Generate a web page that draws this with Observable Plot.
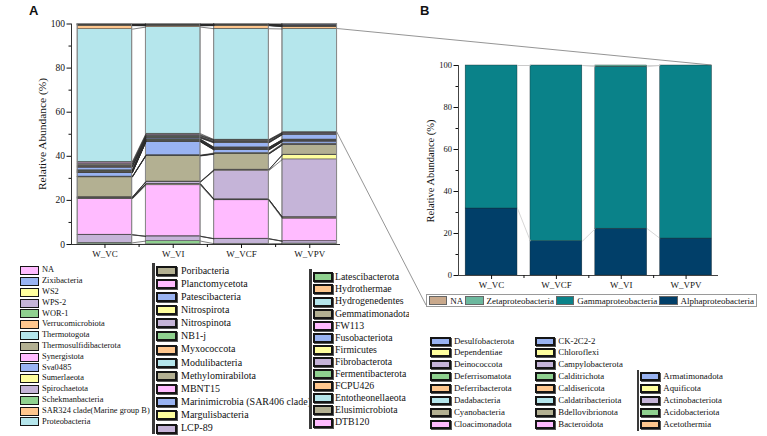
<!DOCTYPE html>
<html><head><meta charset="utf-8">
<script src="https://cdn.jsdelivr.net/npm/d3@7"></script>
<script src="https://cdn.jsdelivr.net/npm/@observablehq/plot@0.6"></script>
<style>
body{margin:0;background:#fff;}
#root{position:relative;width:767px;height:436px;overflow:hidden;font-family:"Liberation Serif","Times New Roman",serif;background:#fff;}
.plot{position:absolute;left:0;top:0;}
.leg{position:absolute;overflow:hidden;background:#fff;}
.item{position:absolute;white-space:nowrap;color:#111;}
.sw{position:absolute;box-sizing:border-box;border-style:solid;border-color:#151515;}
.panel{position:absolute;font-family:"Liberation Sans",Arial,sans-serif;font-weight:bold;font-size:13px;color:#111;}
.ylab{position:absolute;white-space:nowrap;transform:translate(-50%,-50%) rotate(-90deg);color:#111;}
#legB{position:absolute;display:flex;align-items:center;box-sizing:border-box;border:1px solid #9a9a9a;background:#fff;font-size:9px;padding-left:2px;}
#legB .s{width:20px;height:9px;box-sizing:border-box;border:1px solid #666;margin-right:3px;}
#legB .t{margin-right:2px;white-space:nowrap;color:#111;}
</style></head><body><div id="root"></div>
<script>
// ---------- Panel A data (legend order; stacks are drawn bottom = last) ----------
const samplesA = ["W_VC","W_VI","W_VCF","W_VPV"];
const taxa = [
"NA","Zixibacteria","WS2","WPS-2","WOR-1","Verrucomicrobiota","Thermotogota","Thermosulfidibacterota","Synergistota","Sva0485","Sumerlaeota","Spirochaetota","Schekmanbacteria","SAR324 clade(Marine group B)","Proteobacteria",
"Poribacteria","Planctomycetota","Patescibacteria","Nitrospirota","Nitrospinota","NB1-j","Myxococcota","Modulibacteria","Methylomirabilota","MBNT15","Marinimicrobia (SAR406 clade)","Margulisbacteria","LCP-89",
"Latescibacterota","Hydrothermae","Hydrogenedentes","Gemmatimonadota","FW113","Fusobacteriota","Firmicutes","Fibrobacterota","Fermentibacterota","FCPU426","Entotheonellaeota","Elusimicrobiota","DTB120",
"Desulfobacterota","Dependentiae","Deinococcota","Deferrisomatota","Deferribacterota","Dadabacteria","Cyanobacteria","Cloacimonadota",
"CK-2C2-2","Chloroflexi","Campylobacterota","Calditrichota","Caldisericota","Caldatribacteriota","Bdellovibrionota","Bacteroidota",
"Armatimonadota","Aquificota","Actinobacteriota","Acidobacteriota","Acetothermia"];
const valuesVC = [
0.1,0.05,0.05,0.05,0.05,0.1,0.05,0.05,0.05,0.05,0.05,0.05,0.05,1.6,60.2,
0.3,0.6,0.1,0.3,0.5,0.2,0.2,0.05,0.3,0.05,1.2,0.05,0.05,
0.2,0.05,0.05,0.3,0.05,0.05,0.1,0.05,0.05,0.05,0.05,0.1,0.05,
1.6,0.1,0.05,0.05,0.05,0.1,9.0,0.05,
0.1,0.1,0.2,0.05,0.05,0.05,0.2,16.2,
0.05,0.05,3.6,0.7,0.05];
const valuesVI = [
0.1,0.05,0.05,0.05,0.05,0.1,0.05,0.05,0.05,0.05,0.05,0.1,0.05,0.6,48.35,
0.4,0.3,0.2,0.1,0.3,0.2,0.2,0.05,0.2,0.05,0.5,0.05,0.05,
0.2,0.05,0.05,0.3,0.05,0.05,0.1,0.05,0.05,0.05,0.05,0.1,0.05,
6.0,0.1,0.05,0.05,0.05,0.1,11.6,0.05,
0.1,0.1,0.8,0.05,0.05,0.05,0.5,23.1,
0.05,0.05,2.1,1.5,0.05];
const valuesVCF = [
0.1,0.05,0.05,0.05,0.05,0.1,0.05,0.05,0.05,0.05,0.05,0.05,0.05,1.4,50.3,
0.1,0.2,0.1,0.1,0.4,0.1,0.2,0.05,0.2,0.05,2.0,0.05,0.05,
0.1,0.05,0.05,0.2,0.05,0.05,0.3,0.05,0.05,0.05,0.05,0.1,0.05,
1.3,0.3,0.05,0.05,0.05,0.1,7.0,0.05,
0.1,0.3,13.0,0.05,0.05,0.05,0.3,17.4,
0.05,0.05,2.2,0.3,0.05];
const valuesVPV = [
0.1,0.3,0.05,0.05,0.05,0.1,0.05,0.05,0.05,0.3,0.05,0.05,0.05,1.0,46.8,
0.2,0.1,0.1,0.1,0.3,0.05,0.1,0.05,0.1,0.05,2.2,0.05,0.05,
0.1,0.05,0.05,0.1,0.05,0.05,0.1,0.05,0.05,0.05,0.05,0.1,0.05,
0.9,0.1,0.4,0.05,0.05,0.1,4.3,0.05,
0.1,2.0,26.2,0.05,0.05,0.05,0.5,10.2,
0.05,0.05,1.0,0.4,0.05];
const yTicks = [0,20,40,60,80,100];
const yMinorTicks = [10,30,50,70,90];

// ---------- Panel B data ----------
const samplesB = ["W_VC","W_VCF","W_VI","W_VPV"];
const classesB = ["NA","Zetaproteobacteria","Gammaproteobacteria","Alphaproteobacteria"];
const naB    = [0,0,0,0];
const zetaB  = [0,0,0.6,0];
const gammaB = [68.1,83.7,77.1,82.4];
const alphaB = [31.9,16.3,22.3,17.6];

// ---------- styles ----------
const palette = ["#FFBBFF","#99B3F2","#FFFF9E","#C5B4D8","#8FD18F","#FFC78E","#B5E6EC","#B3B092"];
const colorsB = ["#C9A98C","#6CB89E","#0A8289","#013F69"];
const half = 0.4;
const root = document.getElementById("root");

// ---------- build panel A ----------
const valuesA = [valuesVC, valuesVI, valuesVCF, valuesVPV];
const segA = [], cumA = [], barsA = [];
valuesA.forEach((vals, i) => {
  let y = 0; const b = [0];
  for (let k = taxa.length - 1; k >= 0; k--) {
    segA.push({i, k, taxon: taxa[k], y1: y, y2: y + vals[k]});
    y += vals[k]; b.push(y);
  }
  cumA.push(b);
  barsA.push({i, total: y});
});
const linksA = [];
for (let i = 0; i < samplesA.length - 1; i++)
  for (let j = 0; j < cumA[i].length; j++)
    linksA.push({x1: i + half, y1: cumA[i][j], x2: i + 1 - half, y2: cumA[i+1][j]});

const xDomA = [-0.49, 3.45];
const plotA = Plot.plot({
  width: 767, height: 436, marginLeft: 71, marginRight: 427, marginTop: 23.5, marginBottom: 192,
  x: {type: "linear", domain: xDomA},
  y: {domain: [0, 100]},
  color: {type: "identity"},
  style: {background: "transparent", fontFamily: "Liberation Serif", fontSize: "9.5px", color: "#111"},
  marks: [
    Plot.rect(segA, {x1: d => d.i - half, x2: d => d.i + half, y1: "y1", y2: "y2", fill: d => palette[d.k % 8], stroke: "#3a3a3a", strokeWidth: 0.5}),
    Plot.rect(barsA, {x1: d => d.i - half, x2: d => d.i + half, y1: 0, y2: "total", fill: "none", stroke: "#8a8a8a", strokeWidth: 1}),
    Plot.link(linksA, {x1: "x1", y1: "y1", x2: "x2", y2: "y2", stroke: "#2a2a2a", strokeWidth: 0.6}),
    Plot.ruleY([0], {stroke: "#333"}),
    Plot.ruleX([xDomA[0]], {stroke: "#333"}),
    Plot.axisY({ticks: yTicks, tickSize: 4.5, tickPadding: 2, label: null}),
    Plot.axisY({ticks: yMinorTicks, tickSize: 2.5, tickFormat: () => "", label: null}),
    Plot.axisX({ticks: [0,1,2,3], tickFormat: i => samplesA[i], tickSize: 4, tickPadding: 2, label: null, fontSize: 9}),
    Plot.axisX({ticks: [0.5,1.5,2.5], tickSize: 3, tickFormat: () => "", label: null})
  ]
});
plotA.classList.add("plot");

// ---------- build panel B ----------
const valuesB = [naB, zetaB, gammaB, alphaB];
const segB = [], cumB = [];
samplesB.forEach((s, i) => {
  let y = 0; const b = [0];
  for (let k = classesB.length - 1; k >= 0; k--) {
    segB.push({i, k, cls: classesB[k], y1: y, y2: y + valuesB[k][i]});
    y += valuesB[k][i]; b.push(y);
  }
  cumB.push(b);
});
const linksB = [];
for (let i = 0; i < samplesB.length - 1; i++)
  for (let j = 1; j < cumB[i].length - 1; j++)
    linksB.push({x1: i + half, y1: cumB[i][j], x2: i + 1 - half, y2: cumB[i+1][j]});

const xDomB = [-0.51, 3.5];
const plotB = Plot.plot({
  width: 767, height: 436, marginLeft: 458, marginRight: 49, marginTop: 65, marginBottom: 161,
  x: {type: "linear", domain: xDomB},
  y: {domain: [0, 100]},
  color: {type: "identity"},
  style: {background: "transparent", fontFamily: "Liberation Serif", fontSize: "8.5px", color: "#111"},
  marks: [
    Plot.rect(segB.filter(d => d.y2 > d.y1), {x1: d => d.i - half, x2: d => d.i + half, y1: "y1", y2: "y2", fill: d => colorsB[d.k], stroke: "#1c2a30", strokeWidth: 0.4}),
    Plot.link(linksB, {x1: "x1", y1: "y1", x2: "x2", y2: "y2", stroke: "#c4c4c4", strokeWidth: 0.7}),
    Plot.ruleY([0], {stroke: "#444"}),
    Plot.ruleX([xDomB[0]], {stroke: "#444"}),
    Plot.axisY({ticks: yTicks, tickSize: 4.5, tickPadding: 2, label: null}),
    Plot.axisY({ticks: yMinorTicks, tickSize: 2.5, tickFormat: () => "", label: null}),
    Plot.axisX({ticks: [0,1,2,3], tickFormat: i => samplesB[i], tickSize: 4, tickPadding: 2, label: null, fontSize: 9}),
    Plot.axisX({ticks: [0.5,1.5,2.5], tickSize: 3, tickFormat: () => "", label: null})
  ]
});
plotB.classList.add("plot");

// ---------- legends panel A ----------
function legendColumn(items, o) {
  const col = document.createElement("div");
  col.className = "leg";
  Object.assign(col.style, {left: o.left + "px", top: o.top + "px", width: o.width + "px", height: o.height + "px"});
  if (o.bar) {
    const bar = document.createElement("div");
    Object.assign(bar.style, {position: "absolute", left: (o.bar[0] - o.left) + "px", width: o.bar[1] + "px", top: (o.bar[2] - o.top) + "px", height: (o.bar[3] - o.bar[2]) + "px", background: "#3a3a3a"});
    col.append(bar);
  }
  items.forEach((it, j) => {
    const cy = o.first - o.top + j * o.step;
    const sw = document.createElement("div"); sw.className = "sw";
    Object.assign(sw.style, {left: (o.swX - o.left) + "px", top: (cy - o.swH / 2) + "px", width: o.swW + "px", height: o.swH + "px", background: it.color, borderWidth: o.bw + "px"});
    if (o.shadow) sw.style.boxShadow = "1px 1px 0 #555";
    const tx = document.createElement("div"); tx.className = "item";
    Object.assign(tx.style, {left: (o.txX - o.left) + "px", top: (cy - o.fs * 0.62) + "px", fontSize: o.fs + "px", lineHeight: (o.fs * 1.2) + "px"});
    tx.textContent = it.name;
    col.append(sw, tx);
  });
  root.append(col);
}
const legItems = taxa.map((t, k) => ({name: t, color: palette[k % 8]}));

root.append(plotA);
legendColumn(legItems.slice(0, 15), {left: 15, top: 262, width: 135, height: 172, swX: 20, swW: 19, swH: 9, bw: 1.5, txX: 42, first: 270.7, step: 10.8, fs: 8.4});
legendColumn(legItems.slice(15, 28), {left: 150, top: 262, width: 159, height: 174, bar: [152, 3, 263, 434], swX: 156, swW: 21, swH: 10, bw: 2, shadow: true, txX: 181, first: 270.7, step: 13.15, fs: 10});
legendColumn(legItems.slice(28, 41), {left: 309, top: 266, width: 100, height: 166, bar: [309, 2.5, 269, 429], swX: 312.5, swW: 20, swH: 10, bw: 2, shadow: true, txX: 335, first: 277.3, step: 12.1, fs: 9.8});
legendColumn(legItems.slice(41, 49), {left: 428, top: 333, width: 105, height: 100, swX: 430, swW: 21, swH: 9, bw: 2, shadow: true, txX: 454, first: 341, step: 11.86, fs: 8.8});
legendColumn(legItems.slice(49, 57), {left: 533, top: 333, width: 105, height: 100, swX: 535, swW: 20, swH: 9, bw: 2, shadow: true, txX: 558.3, first: 341, step: 11.86, fs: 8.8});
legendColumn(legItems.slice(57, 62), {left: 636, top: 368, width: 125, height: 66, bar: [637, 2, 370, 431], swX: 640, swW: 20, swH: 9, bw: 2, shadow: true, txX: 663.3, first: 376.7, step: 11.86, fs: 8.8});

root.append(plotB);

// ---------- legend panel B ----------
const legB = document.createElement("div");
legB.id = "legB";
Object.assign(legB.style, {left: "426px", top: "294px", width: "331px", height: "13px"});
classesB.forEach((c, k) => {
  const s = document.createElement("div"); s.className = "s"; s.style.background = colorsB[k];
  const t = document.createElement("div"); t.className = "t"; t.textContent = c;
  legB.append(s, t);
});
root.append(legB);

// ---------- axis titles & panel letters ----------
function addText(cls, txt, css) {
  const d = document.createElement("div"); d.className = cls; d.textContent = txt;
  Object.assign(d.style, css); root.append(d); return d;
}
addText("ylab", "Relative Abundance (%)", {left: "42px", top: "133.5px", fontSize: "11.4px"});
addText("ylab", "Relative Abundance (%)", {left: "430px", top: "171px", fontSize: "10.5px"});
addText("panel", "A", {left: "29px", top: "3px"});
addText("panel", "B", {left: "420px", top: "3px"});

// ---------- zoom lines from Proteobacteria of W_VPV to panel B ----------
const iLast = samplesA.length - 1;
const protK = taxa.indexOf("Proteobacteria");
const protSeg = segA.find(d => d.i === iLast && d.k === protK);
const xA = plotA.scale("x"), yA = plotA.scale("y");
const xB = plotB.scale("x"), yB = plotB.scale("y");
const rootBox = root.getBoundingClientRect();
const lb = legB.getBoundingClientRect();
const zoomLines = [
  {x1: xA.apply(iLast + half), y1: yA.apply(protSeg.y2), x2: xB.apply(samplesB.length - 1 + half), y2: yB.apply(100)},
  {x1: xA.apply(iLast + half), y1: yA.apply(protSeg.y1), x2: lb.left - rootBox.left, y2: lb.bottom - rootBox.top - 2}
];
const ov = d3.select(root).append("svg").attr("width", 767).attr("height", 436)
  .style("position", "absolute").style("left", 0).style("top", 0).style("pointer-events", "none");
ov.selectAll("line").data(zoomLines).join("line")
  .attr("x1", d => d.x1).attr("y1", d => d.y1).attr("x2", d => d.x2).attr("y2", d => d.y2)
  .attr("stroke", "#7a7a7a").attr("stroke-width", 0.8);
</script></body></html>
